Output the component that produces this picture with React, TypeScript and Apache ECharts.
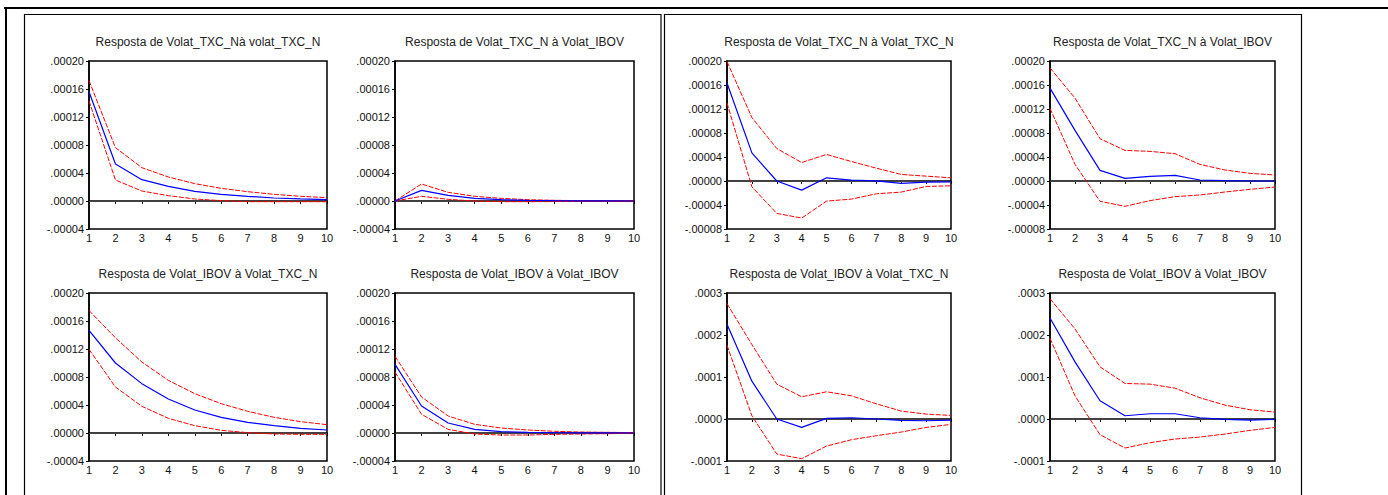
import React, { useEffect, useRef } from "react";
import * as echarts from "echarts";

// ---------- data ----------
const PERIODS = ["1", "2", "3", "4", "5", "6", "7", "8", "9", "10"];

const TITLES = [
  "Resposta de Volat_TXC_Nà volat_TXC_N",
  "Resposta de Volat_TXC_N à Volat_IBOV",
  "Resposta de Volat_IBOV à Volat_TXC_N",
  "Resposta de Volat_IBOV à Volat_IBOV",
  "Resposta de Volat_TXC_N à Volat_TXC_N",
  "Resposta de Volat_TXC_N à Volat_IBOV",
  "Resposta de Volat_IBOV à Volat_TXC_N",
  "Resposta de Volat_IBOV à Volat_IBOV",
];

// Left block
const A1_MID = [0.000156, 0.0000529, 0.0000305, 0.000021, 0.0000138, 0.0000095, 0.0000067, 0.0000043, 0.0000029, 0.0000019];
const A1_UP = [0.000172, 0.0000762, 0.0000476, 0.0000343, 0.0000248, 0.0000181, 0.0000133, 0.0000095, 0.0000067, 0.0000048];
const A1_LO = [0.000143, 0.00003, 0.0000143, 0.0000076, 0.0000029, 0.0000005, -0.000001, -0.000001, -0.000001, -0.000001];

const A2_MID = [0, 0.0000152, 0.0000081, 0.0000038, 0.0000019, 0.000001, 0.0000005, 0.0000002, 0.0000001, 0];
const A2_UP = [0, 0.0000243, 0.0000124, 0.0000067, 0.0000038, 0.0000019, 0.000001, 0.0000005, 0.0000003, 0.0000001];
const A2_LO = [0, 0.0000067, 0.0000024, 0, -0.000001, -0.000001, -0.0000008, -0.0000006, -0.0000004, -0.0000003];

const A3_MID = [0.0001467, 0.0001, 0.0000705, 0.0000486, 0.0000329, 0.0000224, 0.0000152, 0.0000105, 0.0000067, 0.0000043];
const A3_UP = [0.000175, 0.000136, 0.0001014, 0.0000752, 0.0000562, 0.0000419, 0.000031, 0.0000224, 0.0000162, 0.0000119];
const A3_LO = [0.0001195, 0.0000657, 0.0000381, 0.000021, 0.0000105, 0.0000038, 0.0000005, -0.0000014, -0.0000019, -0.0000019];

const A4_MID = [0.0000981, 0.0000386, 0.0000143, 0.0000052, 0.0000019, 0.000001, 0.0000005, 0.0000002, 0.0000001, 0];
const A4_UP = [0.0001095, 0.0000514, 0.0000243, 0.0000124, 0.0000071, 0.0000043, 0.0000024, 0.0000014, 0.000001, 0.0000005];
const A4_LO = [0.0000871, 0.0000267, 0.0000052, -0.0000014, -0.0000029, -0.0000029, -0.0000019, -0.0000014, -0.000001, -0.0000005];

// Right block
const B1_MID = [0.0001634, 0.0000469, 0, -0.0000152, 0.0000053, 0.0000014, 0.0000003, -0.0000041, -0.0000019, -0.0000013];
const B1_UP = [0.000199, 0.0001057, 0.0000541, 0.0000308, 0.0000442, 0.0000325, 0.0000214, 0.0000109, 0.0000081, 0.0000053];
const B1_LO = [0.00013, -0.0000097, -0.000054, -0.0000618, -0.0000335, -0.0000302, -0.0000213, -0.0000185, -0.0000091, -0.000008];

const B2_MID = [0.0001548, 0.0000843, 0.0000178, 0.0000044, 0.0000078, 0.0000094, 0.0000017, 0.0000006, 0, 0];
const B2_UP = [0.0001886, 0.0001381, 0.0000705, 0.000051, 0.0000494, 0.0000455, 0.0000277, 0.0000183, 0.0000128, 0.00001];
const B2_LO = [0.000121, 0.0000277, -0.0000338, -0.0000422, -0.0000327, -0.0000261, -0.0000233, -0.0000183, -0.0000139, -0.00001];

const B3_MID = [0.0002255, 0.0000901, 0, -0.00002, 0.0000014, 0.000003, 0, -0.0000034, -0.0000042, -0.0000026];
const B3_UP = [0.0002747, 0.0001772, 0.000083, 0.0000529, 0.0000648, 0.0000552, 0.0000362, 0.0000188, 0.0000117, 0.0000085];
const B3_LO = [0.0001756, 0.0000077, -0.0000834, -0.0000945, -0.0000644, -0.0000493, -0.0000398, -0.0000311, -0.00002, -0.0000129];

const B4_MID = [0.0002406, 0.000136, 0.0000434, 0.0000077, 0.0000125, 0.0000125, 0.000003, -0.000001, -0.0000026, -0.000001];
const B4_UP = [0.0002865, 0.0002145, 0.0001242, 0.0000846, 0.000083, 0.0000735, 0.0000505, 0.0000331, 0.000022, 0.0000164];
const B4_LO = [0.0001923, 0.0000552, -0.0000374, -0.0000691, -0.0000564, -0.0000477, -0.000043, -0.0000358, -0.0000271, -0.00002];

// y-axis scales
const SCALE_A = { min: -0.00004, max: 0.0002, interval: 0.00004, digits: 5 };
const SCALE_B = { min: -0.00008, max: 0.0002, interval: 0.00004, digits: 5 };
const SCALE_C = { min: -0.0001, max: 0.0003, interval: 0.0001, digits: 4 };

const PANELS = [
  { mid: A1_MID, up: A1_UP, lo: A1_LO, scale: SCALE_A },
  { mid: A2_MID, up: A2_UP, lo: A2_LO, scale: SCALE_A },
  { mid: A3_MID, up: A3_UP, lo: A3_LO, scale: SCALE_A },
  { mid: A4_MID, up: A4_UP, lo: A4_LO, scale: SCALE_A },
  { mid: B1_MID, up: B1_UP, lo: B1_LO, scale: SCALE_B },
  { mid: B2_MID, up: B2_UP, lo: B2_LO, scale: SCALE_B },
  { mid: B3_MID, up: B3_UP, lo: B3_LO, scale: SCALE_C },
  { mid: B4_MID, up: B4_UP, lo: B4_LO, scale: SCALE_C },
];

// ---------- layout ----------
const GRIDS = [
  { left: 89, top: 61, width: 238, height: 168 },
  { left: 395, top: 61, width: 239, height: 168 },
  { left: 89, top: 293, width: 238, height: 168 },
  { left: 395, top: 293, width: 239, height: 168 },
  { left: 727, top: 61, width: 224, height: 168 },
  { left: 1050, top: 61, width: 225, height: 168 },
  { left: 727, top: 293, width: 224, height: 168 },
  { left: 1050, top: 293, width: 225, height: 168 },
];

const FONT = "'Liberation Sans', Arial, Helvetica, sans-serif";

function fmt(digits: number) {
  return (v: number) => {
    const x = Math.abs(v) < 1e-12 ? 0 : v;
    return x.toFixed(digits).replace(/^(-?)0\./, "$1.");
  };
}

export default function App() {
  const ref = useRef<HTMLDivElement>(null);

  useEffect(() => {
    if (!ref.current) return;
    const chart = echarts.init(ref.current, undefined, { renderer: "svg" });

    const grid: any[] = [];
    const xAxis: any[] = [];
    const yAxis: any[] = [];
    const series: any[] = [];
    const graphic: any[] = [];

    PANELS.forEach((p, i) => {
      const g = GRIDS[i];
      grid.push({
        left: g.left,
        top: g.top,
        width: g.width,
        height: g.height,
        show: true,
        borderColor: "#000",
        borderWidth: 1.5,
        backgroundColor: "transparent",
      });
      xAxis.push({
        type: "category",
        gridIndex: i,
        data: PERIODS,
        boundaryGap: false,
        axisLine: { show: true, lineStyle: { color: "#000", width: 1.5 } },
        axisTick: { show: true, inside: false, length: 3, alignWithLabel: true, lineStyle: { color: "#000" } },
        axisLabel: { show: true, interval: 0, margin: 3, fontSize: 11, color: "#111", fontFamily: FONT },
        splitLine: { show: false },
      });
      yAxis.push({
        type: "value",
        gridIndex: i,
        min: p.scale.min,
        max: p.scale.max,
        interval: p.scale.interval,
        axisLine: { show: true, lineStyle: { color: "#000", width: 1.5 } },
        axisTick: { show: true, inside: false, length: 3, lineStyle: { color: "#000" } },
        axisLabel: {
          show: true,
          margin: 5,
          fontSize: 11,
          color: "#111",
          fontFamily: FONT,
          showMinLabel: true,
          showMaxLabel: true,
          formatter: fmt(p.scale.digits),
        },
        splitLine: { show: false },
      });
      series.push({
        type: "line",
        xAxisIndex: i,
        yAxisIndex: i,
        data: p.up,
        symbol: "none",
        lineStyle: { color: "#ff0000", width: 1, type: [5, 1.5] },
        z: 3,
      });
      series.push({
        type: "line",
        xAxisIndex: i,
        yAxisIndex: i,
        data: p.lo,
        symbol: "none",
        lineStyle: { color: "#ff0000", width: 1, type: [5, 1.5] },
        z: 3,
      });
      series.push({
        type: "line",
        xAxisIndex: i,
        yAxisIndex: i,
        data: p.mid,
        symbol: "none",
        lineStyle: { color: "#0000ff", width: 1.2 },
        z: 4,
        markLine: {
          silent: true,
          symbol: "none",
          label: { show: false },
          lineStyle: { color: "#444", width: 1, type: "solid" },
          data: [{ yAxis: 0 }],
          z: 2,
        },
      });
      graphic.push({
        type: "text",
        x: g.left + g.width / 2,
        y: g.top - 19.5,
        style: {
          text: TITLES[i],
          textAlign: "center",
          textVerticalAlign: "middle",
          fontSize: 12,
          fontFamily: FONT,
          fill: "#222",
        },
      });
    });

    // outer frames
    graphic.push(
      { type: "line", shape: { x1: 4, y1: 8, x2: 1388, y2: 8 }, style: { stroke: "#000", lineWidth: 2 } },
      { type: "line", shape: { x1: 6, y1: 8, x2: 6, y2: 495 }, style: { stroke: "#000", lineWidth: 2 } },
      { type: "rect", shape: { x: 24.5, y: 14.5, width: 636.5, height: 500 }, style: { fill: "none", stroke: "#000", lineWidth: 1.2 } },
      { type: "rect", shape: { x: 664.5, y: 14.5, width: 637, height: 500 }, style: { fill: "none", stroke: "#000", lineWidth: 1.2 } }
    );

    chart.setOption({
      animation: false,
      backgroundColor: "#fff",
      grid,
      xAxis,
      yAxis,
      series,
      graphic,
    });

    return () => chart.dispose();
  }, []);

  return (
    <div
      ref={ref}
      style={{ position: "absolute", left: 0, top: 0, width: 1388, height: 495 }}
    />
  );
}
